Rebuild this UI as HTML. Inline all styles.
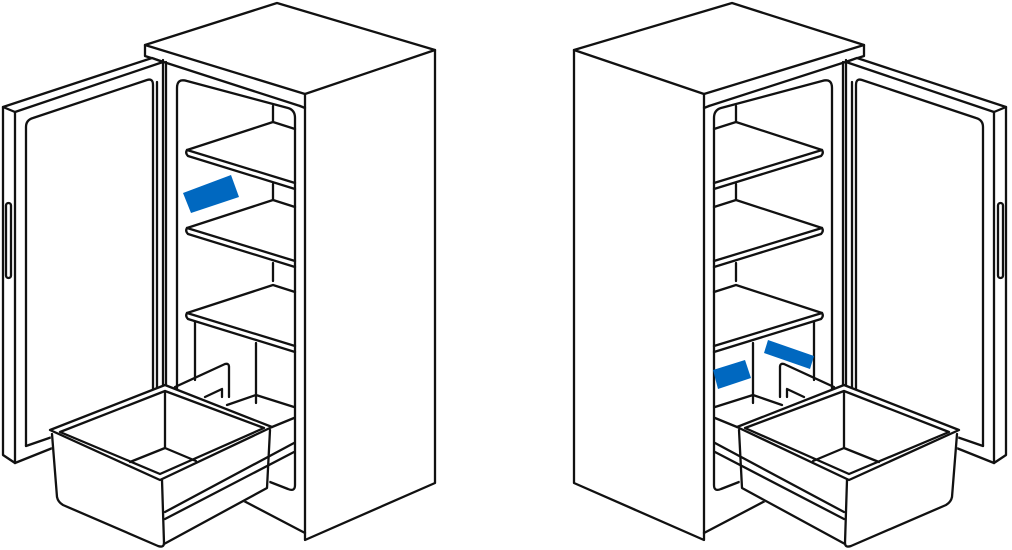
<!DOCTYPE html>
<html><head><meta charset="utf-8"><style>
html,body{margin:0;padding:0;background:#fff}
svg{display:block}
</style></head><body>
<svg width="1012" height="550" viewBox="0 0 1012 550" xmlns="http://www.w3.org/2000/svg">
<defs>
<g id="f" fill="none" stroke="#111" stroke-width="2.3" stroke-linejoin="round" stroke-linecap="round">
  <path d="M145,45 L277,3 L435,50 L305,94 Z" fill="#fff"/>
  <path d="M145,45 V56 L300,106"/>
  <path d="M305,94 V540 L435,483 V50"/>
  <path d="M163,60 V392 M166,62 V392"/>
  <path d="M300,106 L305,108"/>
  <path d="M177,410 V88 Q177,78 187,81 L288,108 Q295,110 295,118 V485 Q295,492 288,489 L270,482"/>
  <path d="M242,500 L305,533"/>
  <path d="M273,106 V122 M273,184 V200 M273,263 V281"/>
  <g id="sh">
    <path d="M187,150 L273,122 L295,129"/>
    <path d="M187,150 L295,183 M187,150 Q185,153 188,156 L295,189"/>
  </g>
  <use href="#sh" y="78"/>
  <use href="#sh" y="163"/>
  <path d="M195,322 V380 M256,343 V403"/>
  <path d="M227,405 L256,395 L294,407 M272,427 L294,418"/>
  <path d="M175,387 L225,364 Q229,363 229,367 V397 M205,397 L222,389 V397"/>
  <path d="M3,107 L152,58 L163,62 L15,112 Z" fill="#fff"/>
  <path d="M3,107 V455 L15,463 V112"/>
  <path d="M15,463 L60,445"/>
  <path d="M26,446 V127 Q26,120 33,118 L147,80 Q153,78 153,85 V392"/>
  <path d="M157,82 V392"/>
  <path d="M26,446 L55,436"/>
  <rect x="6" y="203" width="5" height="75" rx="2.5"/>
  <path d="M50,430 L165,385 L272,427 L269,488 L164,546 L57,500 Z" fill="#fff" stroke="none"/>
  <path d="M50,430 L165,385 L272,427 L160,480 Z"/>
  <path d="M60,432 L165,391 L264,428 L160,474 Z"/>
  <path d="M52,434 L57,497 Q58,502 63,505 L158,546 Q164,548 164,543 L162,480"/>
  <path d="M270,430 L267,488 L164,544"/>
  <path d="M165,512 L294,443 M165,519 L294,452"/>
  <path d="M165,391 V448 M130,462 L165,448 L196,461"/>
</g>
</defs>
<use href="#f"/>
<use href="#f" transform="translate(1009 0) scale(-1 1)"/>
<polygon points="183,193 231,175 239,197 191,213" fill="#0068c0"/>
<polygon points="713,370 745,360 751,378 718,389" fill="#0068c0"/>
<polygon points="768,340 814,356 810,369 764,353" fill="#0068c0"/>
</svg>
</body></html>
